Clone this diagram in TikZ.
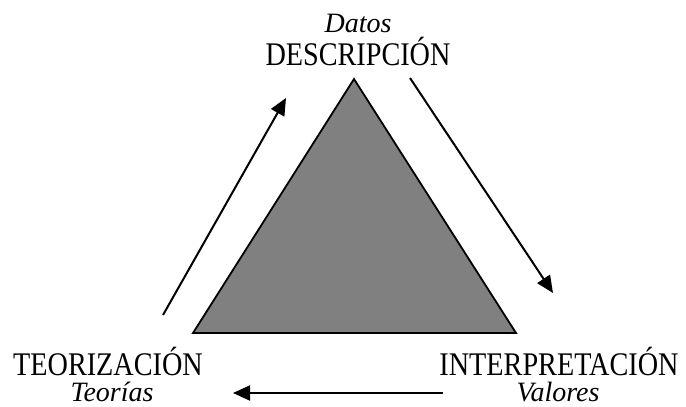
\documentclass[tikz,border=0pt]{standalone}
\usepackage{fontspec}
\setmainfont{Liberation Serif}
\newfontfamily\tfont[FakeStretch=0.855]{Liberation Serif}
\usetikzlibrary{arrows.meta}
\tikzset{
  lbl/.style={anchor=base, inner sep=0pt, text depth=0pt, font=\tfont\fontsize{33}{33}\selectfont},
  ilbl/.style={anchor=base, inner sep=0pt, text height=20pt, font=\itshape\fontsize{28}{28}\selectfont},
  flow/.style={line width=2pt, -{Triangle[length=17pt,width=15pt]}},
  tri/.style={fill=black!50, draw=black, line width=1.8pt, line join=miter}
}
\begin{document}
\begin{tikzpicture}[x=1pt,y=-1pt]
\useasboundingbox (0,0) rectangle (686,407);
% triangle
\coordinate (top) at (354,79);
\coordinate (bl) at (193,333);
\coordinate (br) at (516,333);
\draw[tri] (top) -- (bl) -- (br) -- cycle;
% labels
\node[ilbl] (datos) at (358,32) {Datos};
\node[lbl] (desc) at (358,65) {DESCRIPCIÓN};
\node[lbl] (teor) at (108,375) {TEORIZACIÓN};
\node[ilbl] (teorias) at (112,401) {Teorías};
\node[lbl] (interp) at (559,375) {INTERPRETACIÓN};
\node[ilbl] (valores) at (558,401) {Valores};
% arrows
\coordinate (l1) at (163,315);
\coordinate (l2) at (286,98);
\coordinate (r1) at (410,78);
\coordinate (r2) at (553,293);
\coordinate (b1) at (443,393);
\coordinate (b2) at (233,393);
\draw[flow] (l1) -- (l2);
\draw[flow] (r1) -- (r2);
\draw[flow] (b1) -- (b2);
\end{tikzpicture}
\end{document}
